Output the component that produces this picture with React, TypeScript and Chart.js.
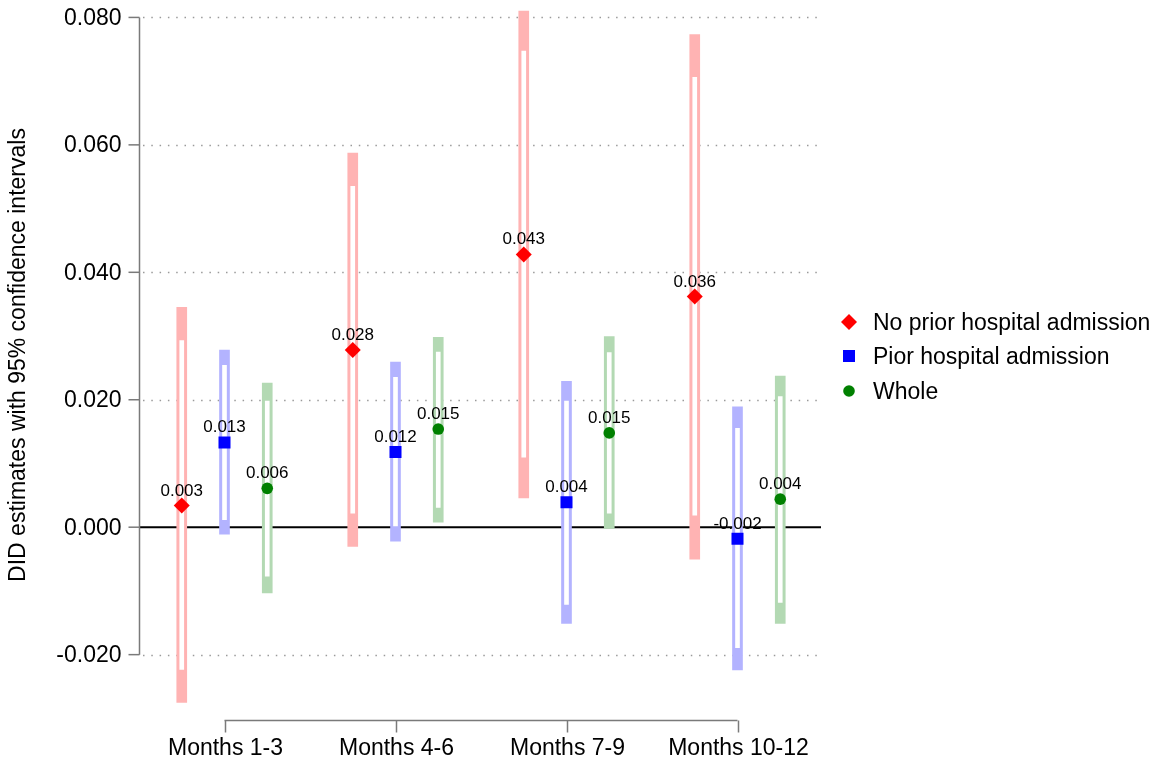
import { useEffect, useRef } from "react";
import { Chart, registerables } from "chart.js";

Chart.register(...registerables);

// Time windows on the x axis
const categories = ["Months 1-3", "Months 4-6", "Months 7-9", "Months 10-12"];
const yTickValues = [-0.02, 0, 0.02, 0.04, 0.06, 0.08];
const seriesNames = ["No prior hospital admission", "Pior hospital admission", "Whole"];

// No prior hospital admission: point estimates, 95% and 90% bounds
const noPriorEst = [0.0034, 0.0278, 0.0428, 0.0362];
const noPriorLo95 = [-0.0275, -0.003, 0.0046, -0.005];
const noPriorHi95 = [0.0345, 0.0587, 0.081, 0.0773];
const noPriorLo90 = [-0.0223, 0.0022, 0.011, 0.0019];
const noPriorHi90 = [0.0293, 0.0535, 0.0747, 0.0706];

// Prior hospital admission
const priorEst = [0.0133, 0.0118, 0.0039, -0.0018];
const priorLo95 = [-0.0011, -0.0022, -0.0151, -0.0224];
const priorHi95 = [0.0278, 0.0259, 0.0229, 0.0189];
const priorLo90 = [0.0012, 0.0002, -0.0121, -0.0189];
const priorHi90 = [0.0254, 0.0235, 0.0198, 0.0155];

// Whole sample
const wholeEst = [0.0061, 0.0154, 0.0148, 0.0044];
const wholeLo95 = [-0.0103, 0.0008, -0.0002, -0.0151];
const wholeHi95 = [0.0226, 0.0298, 0.0299, 0.0237];
const wholeLo90 = [-0.0077, 0.0031, 0.0022, -0.0118];
const wholeHi90 = [0.0198, 0.0275, 0.0274, 0.0205];

const FONT = "'Liberation Sans', Arial, Helvetica, sans-serif";

type Series = {
  name: string;
  est: number[];
  lo95: number[];
  hi95: number[];
  lo90: number[];
  hi90: number[];
  offset: number;
  color: string;
  band: string;
  pointStyle: "rectRot" | "rect" | "circle";
  radius: number;
};

const series: Series[] = [
  {
    name: seriesNames[0], est: noPriorEst, lo95: noPriorLo95, hi95: noPriorHi95,
    lo90: noPriorLo90, hi90: noPriorHi90, offset: -0.25,
    color: "#ff0000", band: "#ffb3b3", pointStyle: "rectRot", radius: 8,
  },
  {
    name: seriesNames[1], est: priorEst, lo95: priorLo95, hi95: priorHi95,
    lo90: priorLo90, hi90: priorHi90, offset: 0,
    color: "#0000ff", band: "#b3b3ff", pointStyle: "rect", radius: 8.5,
  },
  {
    name: seriesNames[2], est: wholeEst, lo95: wholeLo95, hi95: wholeHi95,
    lo90: wholeLo90, hi90: wholeHi90, offset: 0.25,
    color: "#008000", band: "#b3d9b3", pointStyle: "circle", radius: 5.8,
  },
];

function drawMarker(ctx: CanvasRenderingContext2D, style: string, x: number, y: number, r: number, color: string) {
  ctx.save();
  ctx.fillStyle = color;
  ctx.beginPath();
  if (style === "rectRot") {
    ctx.moveTo(x - r, y);
    ctx.lineTo(x, y - r);
    ctx.lineTo(x + r, y);
    ctx.lineTo(x, y + r);
    ctx.closePath();
  } else if (style === "rect") {
    const s = Math.SQRT1_2 * r;
    ctx.rect(x - s, y - s, 2 * s, 2 * s);
  } else {
    ctx.arc(x, y, r, 0, Math.PI * 2);
  }
  ctx.fill();
  ctx.restore();
}

// Axes, grid, titles and legend drawn around the plot region
const framePlugin = {
  id: "frame",
  beforeDatasetsDraw(chart: any) {
    const { ctx, chartArea, scales } = chart;
    const xs = scales.x;
    const ys = scales.y;
    ctx.save();

    // dotted grid lines
    ctx.strokeStyle = "#9a9a9a";
    ctx.lineWidth = 1.5;
    ctx.setLineDash([1.5, 6.8]);
    yTickValues.forEach((v) => {
      if (v === 0) return;
      const py = Math.round(ys.getPixelForValue(v)) + 0.5;
      ctx.beginPath();
      ctx.moveTo(chartArea.left + 4, py);
      ctx.lineTo(chartArea.right - 2, py);
      ctx.stroke();
    });
    ctx.setLineDash([]);

    // zero reference line
    const zy = ys.getPixelForValue(0);
    ctx.strokeStyle = "#000000";
    ctx.lineWidth = 2;
    ctx.beginPath();
    ctx.moveTo(chartArea.left, zy);
    ctx.lineTo(chartArea.right - 2, zy);
    ctx.stroke();

    // y axis line and ticks
    const ax = chartArea.left + 0.5;
    const yTop = ys.getPixelForValue(yTickValues[yTickValues.length - 1]);
    const yBot = ys.getPixelForValue(yTickValues[0]);
    ctx.strokeStyle = "#7a7a7a";
    ctx.lineWidth = 1.5;
    ctx.beginPath();
    ctx.moveTo(ax, yTop);
    ctx.lineTo(ax, yBot);
    ctx.stroke();
    ctx.fillStyle = "#000000";
    ctx.font = `23px ${FONT}`;
    ctx.textAlign = "right";
    ctx.textBaseline = "middle";
    yTickValues.forEach((v) => {
      const py = ys.getPixelForValue(v);
      ctx.beginPath();
      ctx.moveTo(ax - 11, py);
      ctx.lineTo(ax, py);
      ctx.stroke();
      ctx.fillText(v.toFixed(3), ax - 18, py + 1);
    });

    // x axis bracket and category labels
    const bx = chartArea.bottom + 1.5;
    const x0 = xs.getPixelForValue(0);
    const x3 = xs.getPixelForValue(categories.length - 1);
    ctx.beginPath();
    ctx.moveTo(x0, bx);
    ctx.lineTo(x3, bx);
    ctx.stroke();
    ctx.textAlign = "center";
    ctx.textBaseline = "alphabetic";
    categories.forEach((c, k) => {
      const px = Math.round(xs.getPixelForValue(k)) + 0.5;
      ctx.beginPath();
      ctx.moveTo(px, bx);
      ctx.lineTo(px, bx + 12);
      ctx.stroke();
      ctx.fillText(c, px, 755);
    });

    // y axis title
    ctx.save();
    ctx.translate(19, 355);
    ctx.rotate(-Math.PI / 2);
    ctx.textAlign = "center";
    ctx.textBaseline = "middle";
    ctx.font = `23px ${FONT}`;
    ctx.fillText("DID estimates with 95% confidence intervals", 0, 0);
    ctx.restore();

    // legend
    const legendY = [322, 356, 391];
    ctx.font = `23px ${FONT}`;
    ctx.textAlign = "left";
    ctx.textBaseline = "alphabetic";
    series.forEach((s, i) => {
      drawMarker(ctx, s.pointStyle, 849, legendY[i], s.radius, s.color);
      ctx.fillStyle = "#000000";
      ctx.fillText(s.name, 873, legendY[i] + 8);
    });

    ctx.restore();
  },
  afterDatasetsDraw(chart: any) {
    const { ctx } = chart;
    ctx.save();
    ctx.fillStyle = "#000000";
    ctx.font = `17px ${FONT}`;
    ctx.textAlign = "center";
    ctx.textBaseline = "alphabetic";
    series.forEach((s, i) => {
      const meta = chart.getDatasetMeta(i);
      meta.data.forEach((el: any, k: number) => {
        ctx.fillText(s.est[k].toFixed(3), el.x, el.y - 10);
      });
    });
    ctx.restore();
  },
};

export default function App() {
  const canvasRef = useRef<HTMLCanvasElement | null>(null);

  useEffect(() => {
    const canvas = canvasRef.current;
    if (!canvas) return;

    const pointSets = series.map((s) => ({
      type: "scatter" as const,
      label: s.name,
      data: categories.map((_, k) => ({ x: k + s.offset, y: s.est[k] })),
      pointStyle: s.pointStyle,
      pointRadius: s.radius,
      pointHoverRadius: s.radius,
      backgroundColor: s.color,
      borderWidth: 0,
      order: 0,
    }));
    const innerSets = series.map((s) => ({
      type: "bar" as const,
      label: s.name + " 90%",
      data: categories.map((_, k) => ({ x: k + s.offset, y: [s.lo90[k], s.hi90[k]] })),
      backgroundColor: "#ffffff",
      borderWidth: 0,
      barThickness: 4,
      grouped: false,
      order: 1,
    }));
    const outerSets = series.map((s) => ({
      type: "bar" as const,
      label: s.name + " 95%",
      data: categories.map((_, k) => ({ x: k + s.offset, y: [s.lo95[k], s.hi95[k]] })),
      backgroundColor: s.band,
      borderWidth: 0,
      barThickness: 10,
      grouped: false,
      order: 2,
    }));

    const chart = new Chart(canvas, {
      type: "bar",
      data: { datasets: [...pointSets, ...innerSets, ...outerSets] as any },
      options: {
        animation: false,
        responsive: false,
        layout: { padding: { left: 139, right: 334, top: 8, bottom: 42 } },
        scales: {
          x: { type: "linear", min: -0.5, max: 3.5, offset: false, display: false },
          y: { type: "linear", min: -0.0301, max: 0.0814, display: false },
        },
        plugins: { legend: { display: false }, tooltip: { enabled: false } },
      },
      plugins: [framePlugin],
    });

    return () => chart.destroy();
  }, []);

  return (
    <div style={{ position: "absolute", left: 0, top: 0, width: 1157, height: 761, background: "#ffffff" }}>
      <canvas ref={canvasRef} width={1157} height={761} />
    </div>
  );
}
